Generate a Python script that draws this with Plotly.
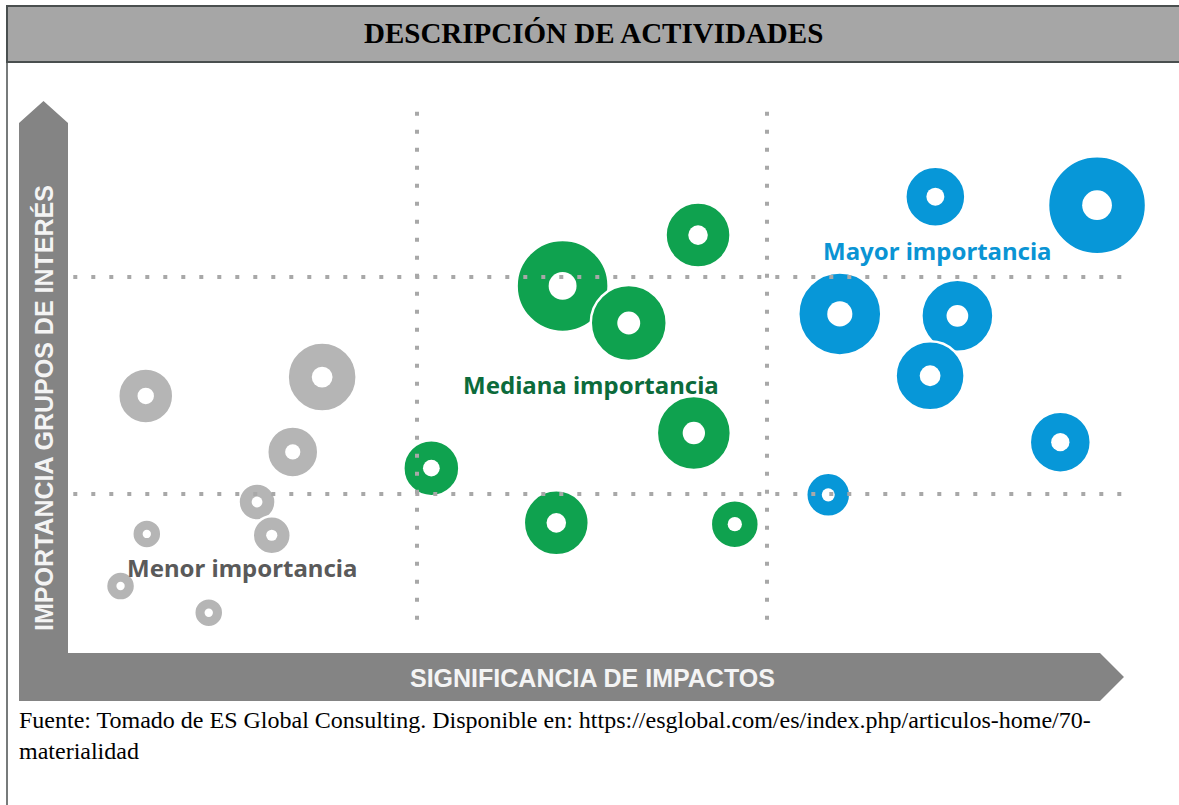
import plotly.graph_objects as go

W, H = 1179, 805

# bubble data (x = significancia de impactos, y = importancia grupos de interes, 0-10 scale)
gray_x = [0.75, 2.43, 2.15, 1.81, 0.76, 1.95, 0.51, 1.35]
gray_y = [4.84, 5.13, 3.98, 3.21, 2.72, 2.70, 1.92, 1.51]
gray_size = [53, 67, 49, 35, 27, 36, 27, 27]

green_x = [4.72, 5.35, 6.01, 5.97, 3.47, 4.66, 6.36]
green_y = [6.53, 5.96, 7.31, 4.27, 3.73, 2.89, 2.87]
green_size = [90, 74, 63, 72, 54, 63, 46]

blue_x = [8.27, 9.81, 7.36, 8.48, 8.22, 9.46, 7.25]
blue_y = [7.90, 7.77, 6.10, 6.07, 5.15, 4.13, 3.32]
blue_size = [58, 96, 81, 70, 67, 59, 42]

thresholds = [10 / 3, 20 / 3]

title = "DESCRIPCIÓN DE ACTIVIDADES"
y_label = "IMPORTANCIA GRUPOS DE INTERÉS"
x_label = "SIGNIFICANCIA DE IMPACTOS"
group_labels = ["Menor importancia", "Mediana importancia", "Mayor importancia"]
source = ("Fuente: Tomado de ES Global Consulting. Disponible en: "
          "https://esglobal.com/es/index.php/articulos-home/70-<br>materialidad")

GRAY, GREEN, BLUE = "#b5b5b5", "#0fa24f", "#0797d8"
HOLE = 0.31


def px(x):
    return x / W


def py(y):
    return 1 - y / H


fig = go.Figure()

groups = [(gray_x, gray_y, gray_size, GRAY),
          (green_x, green_y, green_size, GREEN),
          (blue_x, blue_y, blue_size, BLUE)]

for xs, ys, sizes, col in groups:
    fig.add_trace(go.Scatter(
        x=xs, y=ys, mode="markers", hoverinfo="skip", cliponaxis=False,
        marker=dict(size=[s + 2 for s in sizes], color=col, opacity=1,
                    line=dict(color="white", width=2.5))))

for xs, ys, sizes, col in groups:
    fig.add_trace(go.Scatter(
        x=xs, y=ys, mode="markers", hoverinfo="skip", cliponaxis=False,
        marker=dict(size=[s * HOLE for s in sizes], color="white", opacity=1,
                    line=dict(width=0))))

shapes = []

# header band and frame
shapes.append(dict(type="rect", xref="paper", yref="paper",
                   x0=px(7), x1=px(W + 5), y0=py(62), y1=py(6),
                   fillcolor="#a6a6a6", line=dict(color="#4a4f4f", width=2),
                   layer="below"))
shapes.append(dict(type="line", xref="paper", yref="paper",
                   x0=px(7), x1=px(7), y0=py(6), y1=py(H + 5),
                   line=dict(color="#4a4f4f", width=1.5)))

# L-shaped axis arrows
pts = [(19, 701), (19, 123), (43.5, 101), (68, 123), (68, 653),
       (1100, 653), (1124, 677), (1100, 701)]
path = "M " + " L ".join(f"{px(a):.5f},{py(b):.5f}" for a, b in pts) + " Z"
shapes.append(dict(type="path", xref="paper", yref="paper", path=path,
                   fillcolor="#848484", line=dict(width=0), layer="below"))

# dotted quadrant lines
dot = dict(color="#a8a8a8", width=4, dash="4px,14px")
for t in thresholds:
    shapes.append(dict(type="line", xref="x", yref="y", x0=t, x1=t,
                       y0=1.40, y1=9.35, line=dot, layer="above"))
    shapes.append(dict(type="line", xref="x", yref="y", x0=0.06, x1=10.1,
                       y0=t, y1=t, line=dot, layer="above"))

mid = dict(xanchor="center", yanchor="middle", showarrow=False)
annotations = [
    dict(text=f"<b>{title}</b>", xref="paper", yref="paper", x=px(594), y=py(33),
         font=dict(family="Liberation Serif", size=29, color="black"), **mid),
    dict(text=f"<b>{y_label}</b>", xref="paper", yref="paper", x=px(44), y=py(408),
         textangle=-90, font=dict(family="Liberation Sans", size=25, color="#f4f4f4"), **mid),
    dict(text=f"<b>{x_label}</b>", xref="paper", yref="paper", x=px(592), y=py(678),
         font=dict(family="Liberation Sans", size=25, color="#f4f4f4"), **mid),
    dict(text=f"<b>{group_labels[0]}</b>", x=1.667, y=2.20,
         font=dict(family="Noto Sans", size=24, color="#5a5a5a"), **mid),
    dict(text=f"<b>{group_labels[1]}</b>", x=4.99, y=5.01,
         font=dict(family="Noto Sans", size=24, color="#0c6b3b"), **mid),
    dict(text=f"<b>{group_labels[2]}</b>", x=8.29, y=7.08,
         font=dict(family="Noto Sans", size=24, color="#0a94d4"), **mid),
    dict(text=source, xref="paper", yref="paper", x=px(17), y=py(735),
         xanchor="left", yanchor="middle", align="left", showarrow=False,
         font=dict(family="Liberation Serif", size=24, color="black")),
]

fig.update_layout(
    width=W, height=H, autosize=False,
    margin=dict(l=0, r=0, t=0, b=0),
    paper_bgcolor="white", plot_bgcolor="rgba(0,0,0,0)",
    showlegend=False,
    xaxis=dict(range=[0, 10.5], domain=[px(67), px(67 + 105 * 10.5)],
               visible=False, fixedrange=True),
    yaxis=dict(range=[0, 10], domain=[py(711), py(60)], visible=False, fixedrange=True),
    shapes=shapes, annotations=annotations,
)

fig.write_html("out.html", config={"displayModeBar": False},
               post_script="document.body.style.margin='0';")
